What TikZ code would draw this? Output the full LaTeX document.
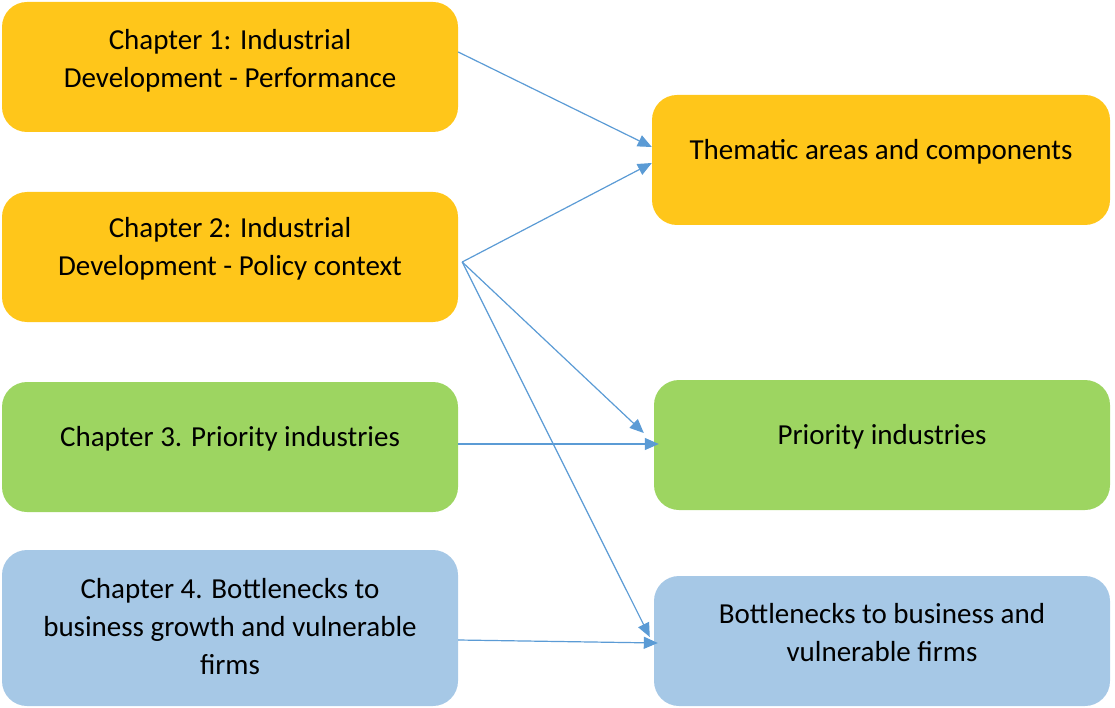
\documentclass[tikz,border=0pt]{standalone}
\usepackage{fontspec}
\setmainfont{Carlito}
\usetikzlibrary{arrows.meta}

\definecolor{chapteryellow}{HTML}{FFC61A}
\definecolor{chaptergreen}{HTML}{9DD561}
\definecolor{chapterblue}{HTML}{A6C8E6}
\definecolor{linkblue}{HTML}{5B9BD5}

\tikzset{
    chapbox/.style={rounded corners=25pt, minimum width=456pt, minimum height=130pt, inner sep=0pt},
    ybox/.style={chapbox, fill=chapteryellow},
    gbox/.style={chapbox, fill=chaptergreen},
    bbox/.style={chapbox, fill=chapterblue},
    boxtext/.style={align=center, font=\fontsize{29}{38}\selectfont, inner sep=0pt},
    link/.style={draw=linkblue, line width=1.2pt, -{Triangle[length=14pt,width=12pt]}}
}

\begin{document}
\begin{tikzpicture}[x=1pt, y=-1pt]
    \useasboundingbox (0,0) rectangle (1115,708);

    \node (ch1) [ybox] at (230,67) {};
    \node (ch2) [ybox] at (230,257) {};
    \node (ch3) [gbox] at (230,447) {};
    \node (ch4) [bbox, minimum height=156pt] at (230,628) {};

    \node (thm) [ybox, minimum width=458pt] at (881,160) {};
    \node (pri) [gbox] at (882,445) {};
    \node (bot) [bbox] at (882,641) {};

    \node [boxtext] at ([yshift=6pt]ch1.center) {Chapter 1: Industrial\\Development - Performance};
    \node [boxtext] at ([yshift=8pt]ch2.center) {Chapter 2: Industrial\\Development - Policy context};
    \node [boxtext] at ([yshift=8pt]ch3.center) {Chapter 3. Priority industries};
    \node [boxtext] at ([yshift=1pt]ch4.center) {Chapter 4. Bottlenecks to\\business growth and vulnerable\\firms};
    \node [boxtext] at ([yshift=8pt]thm.center) {Thematic areas and components};
    \node [boxtext] at ([yshift=8pt]pri.center) {Priority industries};
    \node [boxtext] at ([yshift=8pt]bot.center) {Bottlenecks to business and\\vulnerable firms};

    \coordinate (hub) at ([xshift=4pt, yshift=-5pt]ch2.east);

    \draw [link] ([yshift=15pt]ch1.east) -- ([yshift=13pt]thm.west);
    \draw [link] (hub) -- ([yshift=-3pt]thm.west);
    \draw [link] (hub) -- ([xshift=-10pt, yshift=12pt]pri.west);
    \draw [link] (hub) -- ([xshift=-4pt, yshift=4pt]bot.west);
    \draw [link] ([yshift=3pt]ch3.east) -- ([xshift=5pt, yshift=1pt]pri.west);
    \draw [link] ([yshift=-12pt]ch4.east) -- ([xshift=4pt, yshift=-2pt]bot.west);
\end{tikzpicture}
\end{document}
